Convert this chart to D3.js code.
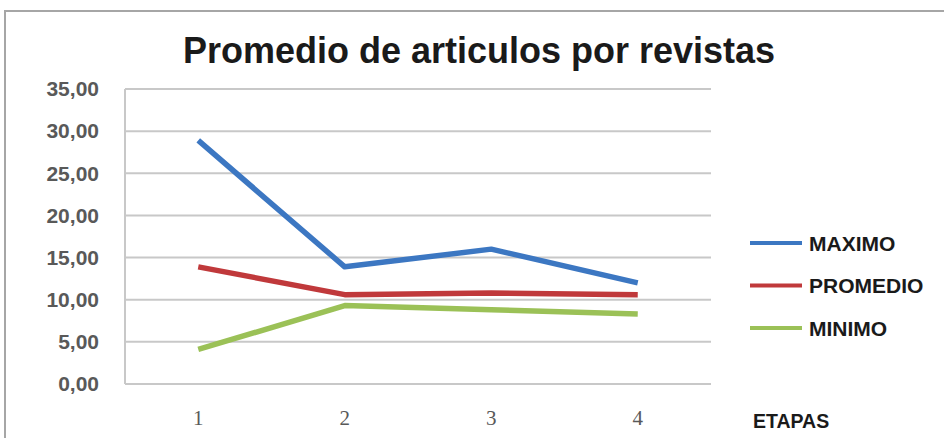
<!DOCTYPE html>
<html>
<head>
<meta charset="utf-8">
<script src="https://cdn.jsdelivr.net/npm/d3@7"></script>
<style>
  body { margin: 0; background: #fff; }
  text { font-family: "Liberation Sans", Arial, sans-serif; }
</style>
</head>
<body>
<div id="chart"></div>
<script>
// data
var etapas = ["1", "2", "3", "4"];
var maximo = [28.9, 13.9, 16.0, 12.0];
var promedio = [13.9, 10.6, 10.8, 10.6];
var minimo = [4.1, 9.3, 8.8, 8.3];
var yTicks = [0, 5, 10, 15, 20, 25, 30, 35];
var seriesNames = ["MAXIMO", "PROMEDIO", "MINIMO"];
var seriesColors = ["#3c77c2", "#c0393b", "#9bc157"];

var W = 944, H = 438;
var margin = {top: 89, right: 233, bottom: 54, left: 125},
    width = W - margin.left - margin.right,
    height = H - margin.top - margin.bottom;

var svg = d3.select("#chart")
  .append("svg")
    .attr("width", W)
    .attr("height", H);

// outer frame
svg.append("rect")
  .attr("x", 5).attr("y", 11)
  .attr("width", W).attr("height", H)
  .attr("fill", "none")
  .attr("stroke", "#a6a6a6")
  .attr("stroke-width", 2);

// title
svg.append("text")
  .attr("x", 479).attr("y", 63)
  .attr("text-anchor", "middle")
  .style("font-size", "36px")
  .style("font-weight", "bold")
  .attr("fill", "#1a1a1a")
  .text("Promedio de articulos por revistas");

var g = svg.append("g")
  .attr("transform", "translate(" + margin.left + "," + margin.top + ")");

var x = d3.scaleBand()
  .domain(etapas)
  .range([0, width]);

var y = d3.scaleLinear()
  .domain([0, 35])
  .range([height, 0]);

// gridlines
g.append("g")
  .selectAll("line")
  .data(yTicks)
  .enter()
  .append("line")
    .attr("x1", 0).attr("x2", width)
    .attr("y1", function(d) { return y(d); })
    .attr("y2", function(d) { return y(d); })
    .attr("stroke", "#c8c8c8")
    .attr("stroke-width", 2);

// left axis line
g.append("line")
  .attr("x1", 0).attr("x2", 0)
  .attr("y1", 0).attr("y2", height)
  .attr("stroke", "#c8c8c8")
  .attr("stroke-width", 2);

// Y axis labels
var yAxis = g.append("g")
  .call(d3.axisLeft(y).tickValues(yTicks).tickSize(0).tickPadding(26)
    .tickFormat(function(d) { return d3.format(".2f")(d).replace(".", ","); }));
yAxis.select(".domain").remove();
yAxis.selectAll("text")
  .style("font-family", "'Liberation Sans', Arial, sans-serif")
  .style("font-size", "21px")
  .style("font-weight", "bold")
  .attr("fill", "#595959");

// X axis labels
var xAxis = g.append("g")
  .attr("transform", "translate(0," + height + ")")
  .call(d3.axisBottom(x).tickSize(0).tickPadding(26));
xAxis.select(".domain").remove();
xAxis.selectAll("text")
  .style("font-family", "'Liberation Serif', 'Times New Roman', serif")
  .style("font-size", "21px")
  .attr("fill", "#595959");

// lines
var allSeries = [maximo, promedio, minimo];
var line = d3.line()
  .x(function(d, i) { return x(etapas[i]) + x.bandwidth() / 2; })
  .y(function(d) { return y(d); });

// draw minimo first so maximo sits on top
[2, 1, 0].forEach(function(k) {
  g.append("path")
    .datum(allSeries[k])
    .attr("d", line)
    .attr("fill", "none")
    .attr("stroke", seriesColors[k])
    .attr("stroke-width", 5.5)
    .attr("stroke-linejoin", "round");
});

// legend
var legend = svg.append("g")
  .selectAll("g")
  .data(seriesNames)
  .enter()
  .append("g")
    .attr("transform", function(d, i) { return "translate(750," + (243 + i * 42.5) + ")"; });
legend.append("line")
  .attr("x1", 0).attr("x2", 52)
  .attr("stroke", function(d, i) { return seriesColors[i]; })
  .attr("stroke-width", 4);
legend.append("text")
  .attr("x", 59).attr("dy", "0.36em")
  .style("font-size", "21px")
  .style("font-weight", "bold")
  .attr("fill", "#1a1a1a")
  .text(function(d) { return d; });

// x axis title
svg.append("text")
  .attr("x", 753).attr("y", 428)
  .style("font-size", "19.5px")
  .style("font-weight", "bold")
  .attr("fill", "#1a1a1a")
  .text("ETAPAS");
</script>
</body>
</html>
